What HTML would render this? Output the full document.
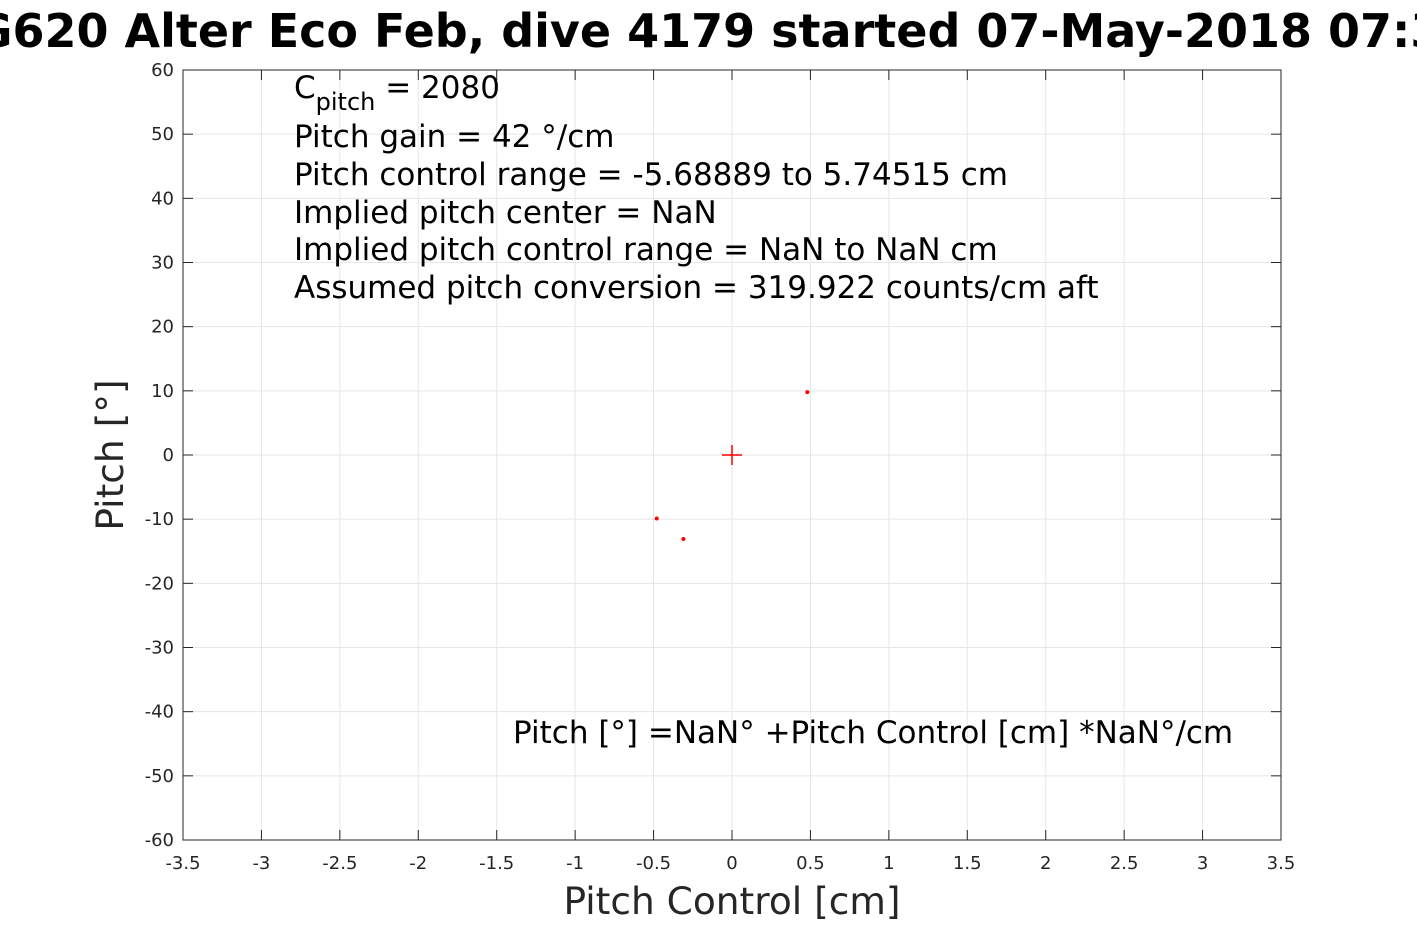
<!DOCTYPE html>
<html><head><meta charset="utf-8"><style>
html,body{margin:0;padding:0;background:#fff;width:1417px;height:945px;overflow:hidden}
svg{display:block;font-family:"DejaVu Sans","Liberation Sans",sans-serif}
</style></head><body>
<svg id="chart" width="1417" height="945">
<text x="708" y="47" text-anchor="middle" font-size="46" font-weight="bold" fill="#000">SG620 Alter Eco Feb, dive 4179 started 07-May-2018 07:35</text>
<g id="grid"></g>
<g id="ticks"></g>
<rect x="183" y="70" width="1098" height="770" fill="none" stroke="#262626" stroke-width="1"/>
<g id="marks"></g>
<g font-size="31" fill="#000">
<text x="294" y="98">C<tspan font-size="24" dy="12">pitch</tspan><tspan dy="-12"> = 2080</tspan></text>
<text x="294" y="147">Pitch gain = 42 °/cm</text>
<text x="294" y="185">Pitch control range = -5.68889 to 5.74515 cm</text>
<text x="294" y="223">Implied pitch center = NaN</text>
<text x="294" y="260">Implied pitch control range = NaN to NaN cm</text>
<text x="294" y="298">Assumed pitch conversion = 319.922 counts/cm aft</text>
<text x="513" y="743">Pitch [°] =NaN° +Pitch Control [cm] *NaN°/cm</text>
</g>
<text x="732" y="914" text-anchor="middle" font-size="37.5" fill="#262626">Pitch Control [cm]</text>
<text transform="translate(123,455) rotate(-90)" text-anchor="middle" font-size="37.5" fill="#262626">Pitch [°]</text>
</svg>
<script>
const xTicks=[-3.5,-3,-2.5,-2,-1.5,-1,-0.5,0,0.5,1,1.5,2,2.5,3,3.5];
const yTicks=[60,50,40,30,20,10,0,-10,-20,-30,-40,-50,-60];
const pointX=[0.48,-0.48,-0.31];
const pointY=[9.8,-9.9,-13.1];
const centerX=[0];
const centerY=[0];
const L=183,R=1281,T=70,B=840;
const sx=v=>L+(v+3.5)/7*(R-L);
const sy=v=>T+(60-v)/120*(B-T);
const NS="http://www.w3.org/2000/svg";
function mk(tag,attrs,parent){const e=document.createElementNS(NS,tag);for(const k in attrs)e.setAttribute(k,attrs[k]);parent.appendChild(e);return e;}
const g=document.getElementById('grid'),t=document.getElementById('ticks'),m=document.getElementById('marks');
xTicks.forEach(v=>{const x=sx(v);
 const l=mk('line',{x1:x,x2:x,y1:T,y2:B,stroke:'#e6e6e6','stroke-width':1},g);
 
 
 mk('line',{x1:x,x2:x,y1:B,y2:B-10,stroke:'#262626'},t);
 mk('line',{x1:x,x2:x,y1:T,y2:T+10,stroke:'#262626'},t);
 const tx=mk('text',{x:x,y:B+29,'text-anchor':'middle','font-size':18,fill:'#262626'},t);
 tx.textContent=String(v);
 
 
});
yTicks.forEach(v=>{const y=sy(v);
 const l=mk('line',{x1:L,x2:R,y1:y,y2:y,stroke:'#e6e6e6','stroke-width':1},g);
 
 
 mk('line',{x1:L,x2:L+10,y1:y,y2:y,stroke:'#262626'},t);
 mk('line',{x1:R,x2:R-10,y1:y,y2:y,stroke:'#262626'},t);
 const tx=mk('text',{x:L-9,y:y+6,'text-anchor':'end','font-size':18,fill:'#262626'},t);
 tx.textContent=String(v);
 
 
});
pointX.forEach((v,i)=>{
 const c=mk('circle',{cx:sx(v),cy:sy(pointY[i]),r:2,fill:'#ff0000'},m);
 
 
});
centerX.forEach((v,i)=>{const x=sx(v),y=sy(centerY[i]);
 const p=mk('path',{d:`M${x-10},${y}H${x+10}M${x},${y-10}V${y+10}`,stroke:'#ff0000','stroke-width':1.5,fill:'none'},m);
 
 
});
</script>
</body></html>
